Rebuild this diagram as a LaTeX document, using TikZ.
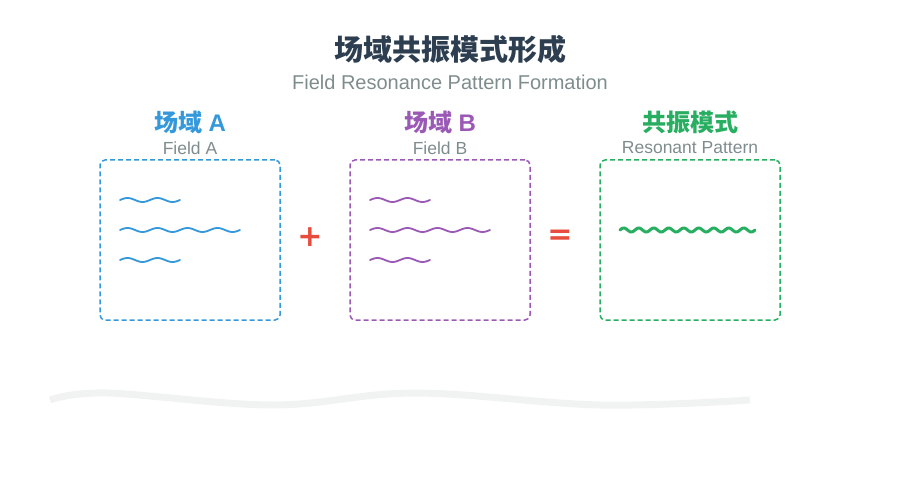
\documentclass[tikz,border=0pt]{standalone}
\usepackage{fontspec}
\setmainfont{Liberation Sans}
\newfontfamily\cjk{Noto Sans CJK SC}
\newfontfamily\opfont{DejaVu Sans}
\usetikzlibrary{positioning}

% 颜色定义
\definecolor{titlecol}{HTML}{2C3E50}
\definecolor{subcol}{HTML}{7F8C8D}
\definecolor{fieldA}{HTML}{3498DB}
\definecolor{fieldB}{HTML}{9B59B6}
\definecolor{resocol}{HTML}{27AE60}
\definecolor{opcol}{HTML}{E74C3C}
\definecolor{basecol}{HTML}{F1F3F3}

\tikzset{
  fieldbox/.style={draw=#1, line width=1.5pt, dash pattern=on 5pt off 3pt,
    rounded corners=5pt, minimum width=180pt, minimum height=160pt, inner sep=0pt},
  fieldwave/.style={draw=#1, line width=1.8pt, line cap=round},
  headlabel/.style={text=#1, font=\fontsize{24}{28}\selectfont\bfseries, inner sep=0pt},
  sublabel/.style={text=subcol, font=\fontsize{17.5}{20}\selectfont, inner sep=0pt},
  opsign/.style={text=opcol, font=\fontsize{30}{30}\selectfont\opfont\bfseries, inner sep=0pt}
}

\begin{document}
\begin{tikzpicture}[x=1pt, y=-1pt]
	
	% 画布大小
	\useasboundingbox (0,0) rectangle (900,500);
	
	% 定义参数
	\def\amp{2} % 波纹振幅
	
	% 标题
	\node[text=titlecol, font=\fontsize{29}{32}\selectfont\cjk\bfseries, inner sep=0pt] (title) at (450,49) {场域共振模式形成}; % 主标题
	\node[text=subcol, font=\fontsize{20}{23}\selectfont, inner sep=0pt] (subtitle) at (450,82) {Field Resonance Pattern Formation}; % 副标题
	
	% 三个场域框
	\node[fieldbox=fieldA] (boxA) at (190,240) {}; % 场域 A
	\node[fieldbox=fieldB] (boxB) at (440,240) {}; % 场域 B
	\node[fieldbox=resocol] (boxR) at (690,240) {}; % 共振模式
	
	% 标注场域
	\node[headlabel=fieldA] (headA) at (190,122) {{\cjk 场域} A};
	\node[sublabel] (subA) at (190,148) {Field A};
	\node[headlabel=fieldB] (headB) at (440,122) {{\cjk 场域} B};
	\node[sublabel] (subB) at (440,148) {Field B};
	\node[headlabel=resocol] (headR) at (690,122) {\cjk 共振模式};
	\node[sublabel] (subR) at (690,148) {Resonant Pattern};
	
	% 运算符号
	\node[opsign] (plus) at (310,237) {+}; % 加号
	\node[opsign] (equal) at (560,237) {=}; % 等号
	
	% 场域 A 与场域 B 的波纹
	\foreach \s/\col in {120/fieldA, 370/fieldB}{
		\draw[fieldwave=\col] plot[domain=\s:\s+60, samples=61] (\x, {200 - \amp*sin((\x-\s)*12)}); % 短波
		\draw[fieldwave=\col] plot[domain=\s:\s+120, samples=121] (\x, {230 - \amp*sin((\x-\s)*12)}); % 长波
		\draw[fieldwave=\col] plot[domain=\s:\s+60, samples=61] (\x, {260 - \amp*sin((\x-\s)*12)}); % 短波
	}
	
	% 共振后的波纹
	\draw[resocol, line width=3pt, line cap=round] plot[domain=620:755, samples=136] (\x, {230 - \amp*sin((\x-620)*24)});
	
	% 底部的浅色曲线
	\draw[basecol, line width=7pt] plot[smooth, tension=0.6] coordinates {(50,400) (107,393) (273,405) (415,393) (600,405) (750,400)};
	
\end{tikzpicture}
\end{document}
